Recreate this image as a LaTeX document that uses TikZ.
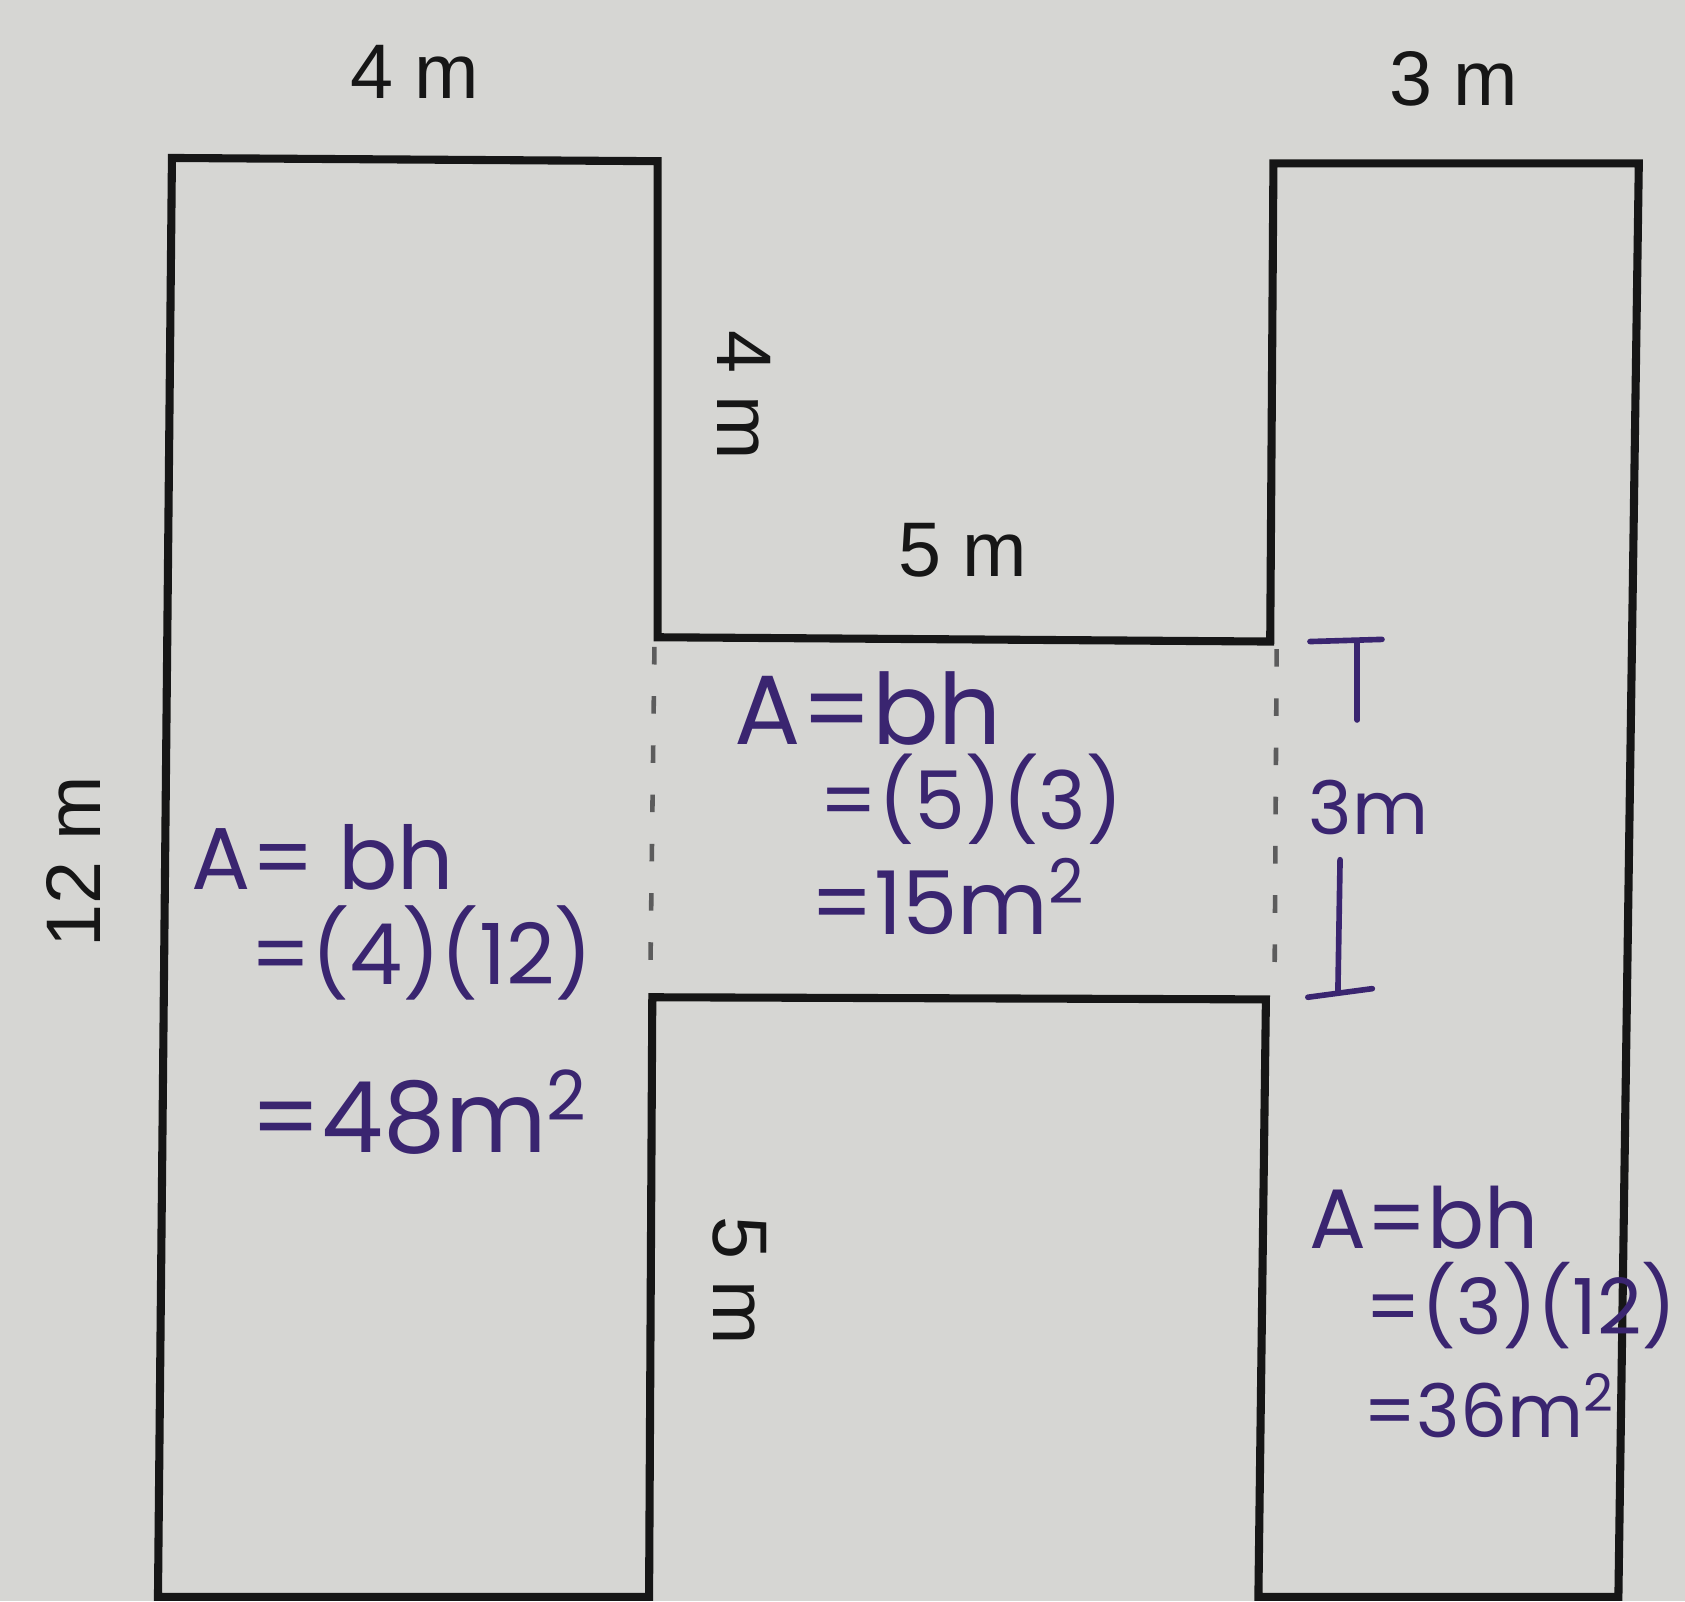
\documentclass[tikz,border=0pt]{standalone}
\usepackage{fontspec}
\setmainfont{Liberation Sans}
\newfontfamily\handfont{Poppins}
\definecolor{paper}{HTML}{D6D6D3}
\definecolor{ink}{HTML}{3A2570}
\definecolor{pen}{HTML}{161616}
\tikzset{
  wall/.style={draw=pen, line width=2.3pt, line join=miter},
  dotline/.style={draw=pen!70, line width=1.3pt, dash pattern=on 5pt off 9pt},
  dimlabel/.style={inner sep=0pt, font=\fontsize{22}{26}\selectfont, text=pen},
  hand/.style={inner sep=0pt, anchor=base west, text=ink},
  handline/.style={draw=ink, line width=1.6pt, line cap=round},
}
\begin{document}
\begin{tikzpicture}[x=0.010746cm, y=-0.010746cm]
\fill[paper] (0,0) rectangle (1568,1490);
\useasboundingbox (0,0) rectangle (1568,1490);
% H outline
\draw[wall] (160,147) -- (612,150) -- (612,593) -- (1182,597) -- (1185,152) -- (1525,152)
  -- (1506,1486) -- (1171,1486) -- (1178,930) -- (607,928) -- (604,1486) -- (147,1486) -- cycle;
% dotted separators
\coordinate (dl1) at (609,602); \coordinate (dl2) at (605,922);
\coordinate (dr1) at (1188,604); \coordinate (dr2) at (1186,922);
\draw[dotline] (dl1) -- (dl2);
\draw[dotline] (dr1) -- (dr2);
% printed dimension labels
\node[dimlabel] (top4) at (386,67) {4 m};
\node[dimlabel] (top3) at (1353,73) {3 m};
\node[dimlabel, rotate=-90] (side4) at (692,368) {4 m};
\node[dimlabel] (mid5) at (896,512) {5 m};
\node[dimlabel, rotate=90] (side12) at (68,802) {12 m};
\node[dimlabel, rotate=-90] (side5) at (688,1192) {5 m};
% handwritten: left
\node[hand, font=\handfont\fontsize{25}{28}\selectfont] (l1) at (178,828) {A= bh};
\node[hand, font=\handfont\fontsize{24}{28}\selectfont] (l2) at (232,916) {=(4)(12)};
\node[hand, font=\handfont\fontsize{28}{32}\selectfont] (l3) at (232,1072) {=48m\textsuperscript{2}};
% handwritten: middle
\node[hand, font=\handfont\fontsize{28}{32}\selectfont] (m1) at (683,693) {A=bh};
\node[hand, font=\handfont\fontsize{23}{28}\selectfont] (m2) at (762,772) {=(5)(3)};
\node[hand, font=\handfont\fontsize{25}{30}\selectfont] (m3) at (754,870) {=15m\textsuperscript{2}};
% handwritten: right
\node[hand, font=\handfont\fontsize{24}{28}\selectfont] (r1) at (1218,1162) {A=bh};
\node[hand, font=\handfont\fontsize{22}{26}\selectfont] (r2) at (1270,1242) {=(3)(12)};
\node[hand, font=\handfont\fontsize{21}{26}\selectfont] (r3) at (1268,1338) {=36m\textsuperscript{2}};
% 3m dimension marker
\node[hand, font=\handfont\fontsize{21}{26}\selectfont] (d3) at (1217,777) {3m};
\coordinate (tb1) at (1219,597); \coordinate (tb2) at (1286,595);
\coordinate (tv1) at (1263,598); \coordinate (tv2) at (1263,670);
\coordinate (bv1) at (1247,800); \coordinate (bv2) at (1245,922);
\coordinate (bb1) at (1217,928); \coordinate (bb2) at (1277,920);
\draw[handline] (tb1) -- (tb2);
\draw[handline] (tv1) -- (tv2);
\draw[handline] (bv1) -- (bv2);
\draw[handline] (bb1) -- (bb2);
\end{tikzpicture}
\end{document}
